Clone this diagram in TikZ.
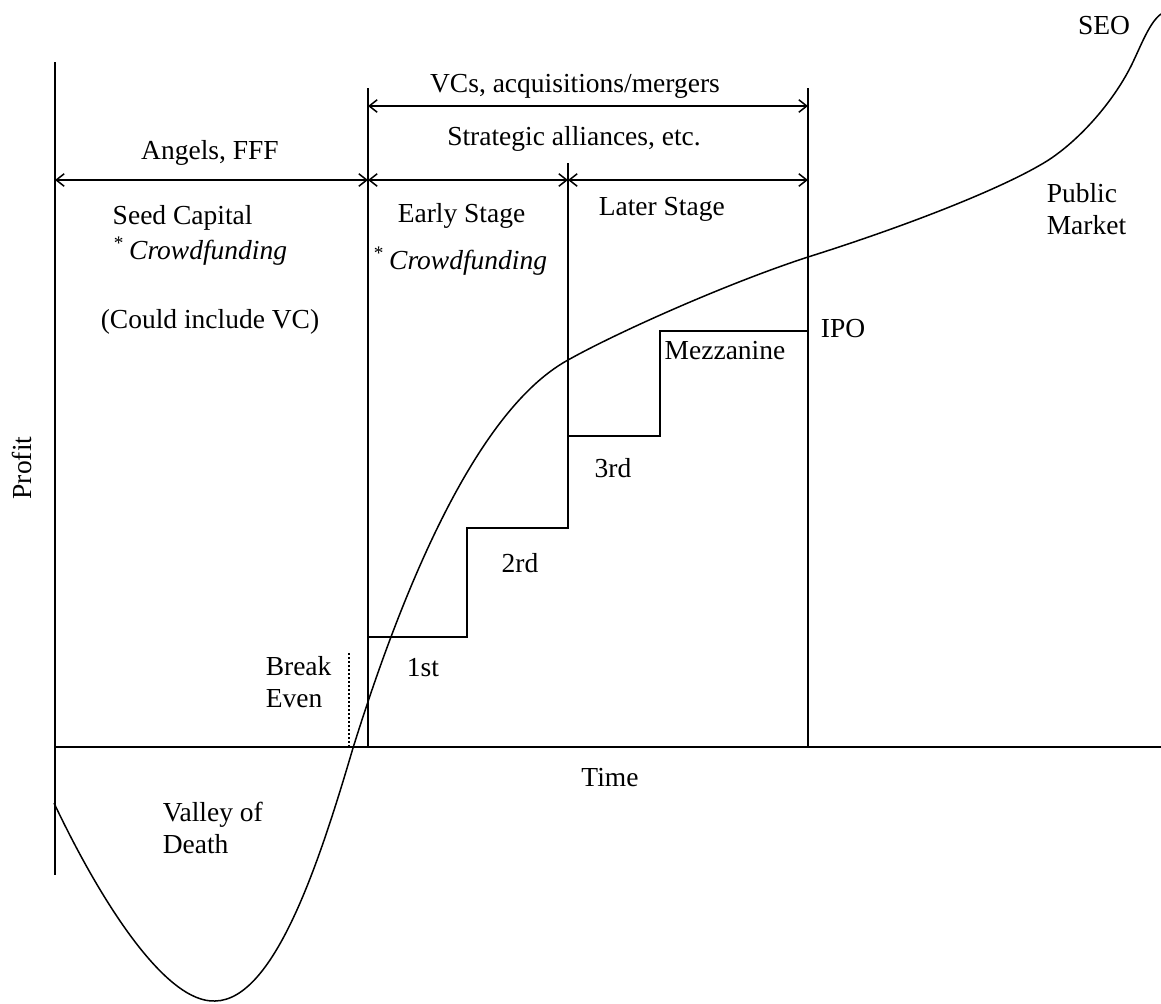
\documentclass[tikz,border=0pt]{standalone}
\usepackage{fontspec}
\setmainfont{Liberation Serif}
\usetikzlibrary{arrows.meta}
\begin{document}
\begin{tikzpicture}[x=0.4pt, y=-0.4pt, line width=0.6pt,
    font=\fontsize{11}{13}\selectfont,
    span/.style={{Straight Barb[length=3.2pt,width=5pt]}-{Straight Barb[length=3.2pt,width=5pt]}},
    lbl/.style={inner sep=0pt}]
    \useasboundingbox (0,0) rectangle (1161,1003);

    % Axes
    \coordinate (ytop) at (55,62);
    \coordinate (ybot) at (55,875);
    \coordinate (xleft) at (55,747);
    \coordinate (xright) at (1161,747);
    \draw (ytop) -- (ybot);
    \draw (xleft) -- (xright);
    \node[lbl, rotate=90] (profit) at (22,468) {Profit};
    \node[lbl] (time) at (610,778) {Time};

    % Stage boundaries
    \coordinate (earlytop) at (368,88);
    \coordinate (earlybot) at (368,747);
    \coordinate (ipotop) at (808,88);
    \coordinate (ipobot) at (808,747);
    \coordinate (latertop) at (568,163);
    \coordinate (laterbot) at (568,528);
    \draw (earlytop) -- (earlybot);
    \draw (ipotop) -- (ipobot);
    \draw (latertop) -- (laterbot);
    \coordinate (betop) at (349,653);
    \coordinate (bebot) at (349,747);
    \draw[densely dotted] (betop) -- (bebot);

    % Spans
    \coordinate (a1) at (368,106);
    \coordinate (a2) at (808,106);
    \coordinate (b0) at (55,180);
    \coordinate (b1) at (368,180);
    \coordinate (b2) at (568,180);
    \coordinate (b3) at (808,180);
    \draw[span] (a1) -- (a2);
    \draw[span] (b0) -- (b1);
    \draw[span] (b1) -- (b2);
    \draw[span] (b2) -- (b3);
    \node[lbl] (vcs) at (575,86) {VCs, acquisitions/mergers};
    \node[lbl] (alliances) at (574,139) {Strategic alliances, etc.};
    \node[lbl] (angels) at (210,153) {Angels, FFF};

    % Stage labels
    \node[lbl, anchor=west] (seed) at (112,218) {Seed Capital};
    \node[lbl, anchor=west] (crowd1) at (113,251) {\textsuperscript{*}\,\textit{Crowdfunding}};
    \node[lbl] (couldvc) at (210,322) {(Could include VC)};
    \node[lbl, anchor=west] (early) at (397,216) {Early Stage};
    \node[lbl, anchor=west] (crowd2) at (373,261) {\textsuperscript{*}\,\textit{Crowdfunding}};
    \node[lbl, anchor=west] (later) at (598,209) {Later Stage};
    \node[lbl, anchor=west, align=left] (public) at (1046,209) {Public\\Market};
    \node[lbl] (seo) at (1104,26) {SEO};

    % Funding rounds
    \draw (368,637) -- (467,637) -- (467,528) -- (568,528) -- (568,436)
        -- (660,436) -- (660,331) -- (808,331);
    \node[lbl] (r1) at (423,668) {1st};
    \node[lbl] (r2) at (520,563) {2rd};
    \node[lbl] (r3) at (613,468) {3rd};
    \node[lbl] (mezz) at (725,351) {Mezzanine};
    \node[lbl] (ipo) at (843,329) {IPO};
    \node[lbl, anchor=west, align=left] (breakeven) at (265,682) {Break\\Even};
    \node[lbl, anchor=west, align=left] (valley) at (162,828) {Valley of\\Death};

    % Profit curve
    \draw (54,803) .. controls (100,900) and (165,1003) .. (215,1001)
        .. controls (275,1000) and (320,860) .. (353,748)
        .. controls (393,620) and (468,415) .. (568,360)
        .. controls (618,332) and (728,283) .. (808,257)
        .. controls (900,228) and (1000,190) .. (1047,161)
        .. controls (1080,140) and (1115,100) .. (1133,62)
        .. controls (1142,43) and (1150,22) .. (1161,14);
\end{tikzpicture}
\end{document}
